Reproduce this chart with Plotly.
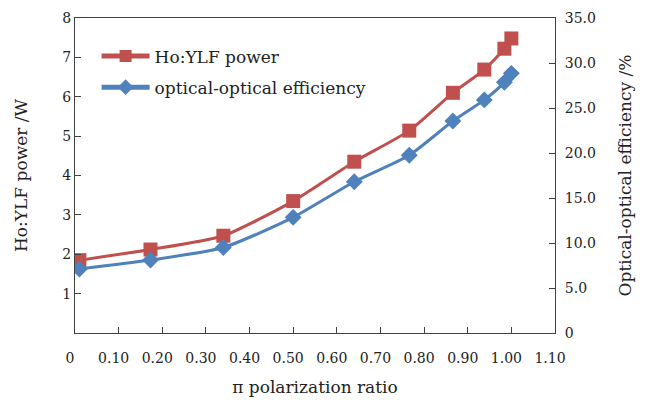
import plotly.graph_objects as go

ratio = [0.01, 0.173, 0.34, 0.50, 0.64, 0.766, 0.866, 0.938, 0.984, 1.00]
power_w = [1.85, 2.12, 2.47, 3.35, 4.35, 5.14, 6.10, 6.69, 7.22, 7.48]
efficiency_pct = [7.1, 8.1, 9.5, 12.85, 16.8, 19.75, 23.55, 25.9, 27.85, 28.85]

x_tickvals = [0, 0.1, 0.2, 0.3, 0.4, 0.5, 0.6, 0.7, 0.8, 0.9, 1.0, 1.1]
x_ticktext = ["0", "0.10", "0.20", "0.30", "0.40", "0.50", "0.60", "0.70", "0.80", "0.90", "1.00", "1.10"]
y1_tickvals = [1, 2, 3, 4, 5, 6, 7, 8]
y2_tickvals = [0, 5, 10, 15, 20, 25, 30, 35]
y2_ticktext = ["0", "5.0", "10.0", "15.0", "20.0", "25.0", "30.0", "35.0"]

RED = "#C0504D"
BLUE = "#4F81BD"
AX = "#404040"
FONT = "DejaVu Serif"

fig = go.Figure()
fig.add_trace(go.Scatter(
    x=ratio, y=power_w, name="Ho:YLF power", mode="lines+markers",
    line=dict(color=RED, width=3, shape="spline", smoothing=0.6),
    marker=dict(symbol="square", size=14, color=RED),
    yaxis="y", legendgroup="a",
))
fig.add_trace(go.Scatter(
    x=ratio, y=efficiency_pct, name="optical-optical efficiency", mode="lines+markers",
    line=dict(color=BLUE, width=3, shape="spline", smoothing=0.6),
    marker=dict(symbol="diamond", size=13, color=BLUE),
    yaxis="y2", legendgroup="b",
))

fig.update_layout(
    width=650, height=400,
    margin=dict(l=75, r=95, t=18, b=67),
    paper_bgcolor="white", plot_bgcolor="white",
    font=dict(family=FONT, size=14, color="#222222"),
    showlegend=True,
    legend=dict(x=0.045, y=0.935, xanchor="left", yanchor="top",
                font=dict(size=17, family=FONT, color="#222222"),
                bgcolor="rgba(0,0,0,0)", tracegroupgap=6, itemsizing="constant",
                itemwidth=48),
    xaxis=dict(
        range=[0, 1.1], tickvals=x_tickvals, ticktext=x_ticktext,
        showgrid=False, zeroline=False, showline=True, linecolor=AX, linewidth=1,
        mirror=True, ticks="inside", ticklen=6, tickcolor=AX,
        tickfont=dict(size=14), ticklabelshift=-5, ticklabelstandoff=12,
        automargin=False,
        title=dict(text="π polarization ratio", font=dict(size=17), standoff=16),
    ),
    yaxis=dict(
        range=[0, 8], tickvals=y1_tickvals,
        showgrid=False, zeroline=False, showline=True, linecolor=AX, linewidth=1,
        ticks="inside", ticklen=6, tickcolor=AX,
        tickfont=dict(size=14), automargin=False,
        title=dict(text="Ho:YLF power /W", font=dict(size=17), standoff=30),
    ),
    yaxis2=dict(
        range=[0, 35], tickvals=y2_tickvals, ticktext=y2_ticktext,
        overlaying="y", side="right",
        showgrid=False, zeroline=False, showline=True, linecolor=AX, linewidth=1,
        ticks="inside", ticklen=6, tickcolor=AX,
        tickfont=dict(size=14), ticklabelstandoff=6, automargin=False,
        title=dict(text="Optical-optical efficiency /%", font=dict(size=17), standoff=24),
    ),
)

fig.write_html("out.html")
